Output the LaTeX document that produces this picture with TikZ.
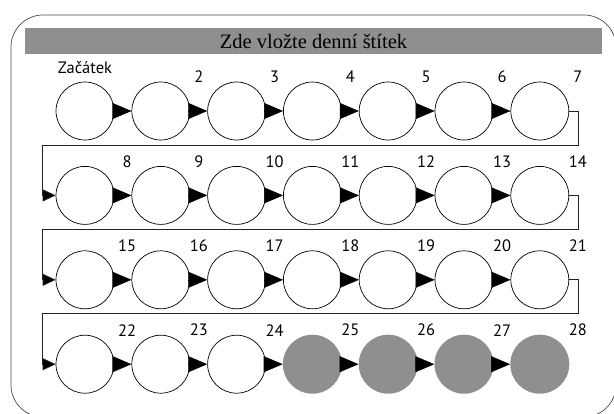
\documentclass[tikz,border=0pt]{standalone}
\usepackage{fontspec}
\setmainfont{Liberation Serif}
\newfontfamily\labelfont{PT Sans}
\usetikzlibrary{arrows.meta}
\definecolor{sheetGray}{HTML}{8F8F8F}
\definecolor{frameGray}{HTML}{4A4A4A}
\definecolor{lineDark}{HTML}{222222}

\begin{document}
\begin{tikzpicture}[x=1pt, y=-1pt,
    sheetFrame/.style={draw=frameGray, line width=0.7pt, rounded corners=32pt},
    headerBar/.style={fill=sheetGray, rectangle, inner sep=0pt, minimum width=577pt, minimum height=26pt, font=\fontsize{20.5}{21}\selectfont},
    dayCircle/.style={draw=black, line width=0.7pt, circle, fill=white, minimum size=58pt, inner sep=0pt},
    doneCircle/.style={circle, fill=sheetGray, minimum size=59pt, inner sep=0pt},
    dayNum/.style={font=\labelfont\fontsize{16.5}{17}\selectfont, inner sep=0pt},
    stepArrow/.style={draw=black, line width=0.6pt, -{Triangle[length=19pt, width=16pt]}},
    turnArrow/.style={draw=lineDark, line width=0.8pt, -{Triangle[length=13pt, width=12pt, fill=black]}},
]
\useasboundingbox (0,0) rectangle (614,413);
\draw[sheetFrame] (11,15) rectangle (616,417);
\node[headerBar] (header) at (313.5, 41) {Zde vložte denní štítek};

% day circles, four rows of seven
\foreach \r in {0,...,3}{
  \foreach \k in {1,...,7}{
    \pgfmathtruncatemacro{\n}{7*\r+\k}
    \ifnum\n>24 \def\look{doneCircle}\else\def\look{dayCircle}\fi
    \node[\look] (c\n) at ({85+75.8*(\k-1)}, {111+84.4*\r}) {};
  }
}

% labels
\node[dayNum] (start) at (85,68) {Začátek};
\foreach \n in {2,...,28}{
  \pgfmathtruncatemacro{\col}{mod(\n-1,7)}
  \ifnum\col=0 \def\dx{42}\else\def\dx{38}\fi
  \node[dayNum] (n\n) at ([shift={(\dx,-34)}]c\n.center) {\n};
}

% arrows along the rows
\foreach \r in {0,...,3}{
  \foreach \k in {1,...,6}{
    \pgfmathtruncatemacro{\a}{7*\r+\k}
    \pgfmathtruncatemacro{\b}{\a+1}
    \draw[stepArrow] (c\a) -- (c\b);
  }
}

% turns to the next row
\foreach \r in {0,1,2}{
  \pgfmathtruncatemacro{\a}{7*\r+7}
  \pgfmathtruncatemacro{\b}{\a+1}
  \coordinate (retR\r) at (578, {145+84.4*\r});
  \coordinate (retL\r) at (42, {145+84.4*\r});
  \draw[turnArrow] (c\a.east) -| (retR\r) -- (retL\r) |- (c\b.west);
}
\end{tikzpicture}
\end{document}
